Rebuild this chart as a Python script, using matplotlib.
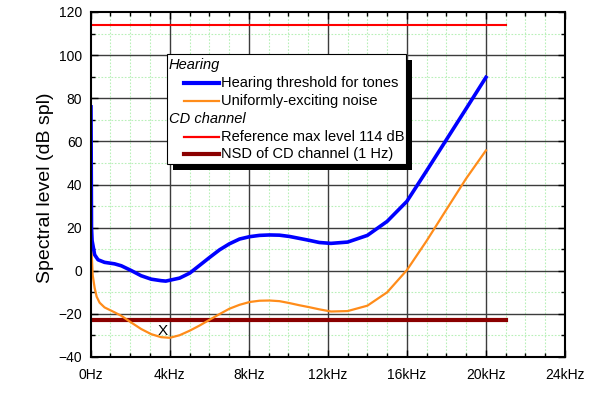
import numpy as np
import matplotlib
matplotlib.use("Agg")
import matplotlib.pyplot as plt
from matplotlib.patches import Rectangle
from matplotlib.lines import Line2D
from matplotlib.ticker import MultipleLocator, FuncFormatter

plt.rcParams["font.family"] = ["Liberation Sans", "DejaVu Sans"]

# --------------------------------------------------------------------------
# Data (frequency in kHz, level in dB spl)
# --------------------------------------------------------------------------
THRESH_F = [0.015, 0.04, 0.07, 0.13, 0.20, 0.37, 0.70, 1.21, 1.55, 2.05,
            2.55, 3.06, 3.56, 3.80, 4.00, 4.50, 5.01, 5.51, 6.02, 6.52,
            7.02, 7.53, 8.04, 8.54, 9.05, 9.55, 10.06, 10.56, 11.06, 11.57,
            12.16, 13.0, 14.0, 15.0, 16.0, 17.0, 18.0, 19.0, 20.0]
THRESH_DB = [76, 20, 14, 11, 7.4, 5.1, 3.9, 3.2, 2.3, 0.1,
             -2.3, -3.9, -4.6, -4.8, -4.4, -3.4, -1.1, 2.5, 6.2, 9.7,
             12.5, 14.7, 15.8, 16.4, 16.6, 16.5, 15.9, 15.0, 14.1, 13.1,
             12.7, 13.3, 16.4, 22.9, 32.2, 46.4, 60.8, 75.2, 89.7]

NOISE_F = [0.015, 0.04, 0.10, 0.20, 0.30, 0.45, 0.70, 1.21, 1.55, 2.05,
           2.55, 3.06, 3.56, 4.00, 4.50, 5.01, 5.51, 6.02, 6.52, 7.02,
           7.53, 8.04, 8.54, 9.05, 9.55, 10.06, 10.56, 11.06, 11.57, 12.16,
           13.0, 14.0, 15.0, 16.0, 17.0, 18.0, 19.0, 20.0]
NOISE_DB = [62, 10, -2, -8, -12, -14.8, -17.0, -19.3, -20.9, -24,
            -27, -29.4, -30.8, -31.1, -29.9, -27.8, -25.4, -22.7, -20.1, -17.6,
            -15.8, -14.5, -13.9, -13.8, -14.1, -15, -16.0, -16.9, -17.9, -18.9,
            -18.7, -16.2, -10, 0.3, 13.9, 28.4, 42.8, 55.8]

REF_F = [0, 21]
REF_DB = [114, 114]
NSD_F = [0, 21]
NSD_DB = [-23, -23]

X_MARK = (3.63, -27.8)

BLUE = "#0000ff"
ORANGE = "#ff8c1a"
RED = "#ff0000"
DARKRED = "#8b0000"

W, H = 600, 398
fig = plt.figure(figsize=(W / 100, H / 100), dpi=100)
ax = fig.add_axes([90.7 / W, 41 / H, (565 - 90.7) / W, (357 - 12) / H])

ax.set_xlim(0, 24)
ax.set_ylim(-40, 120)

# grids
for f in range(1, 24):
    if f % 4:
        ax.axvline(f, color="#b8f0b8", lw=0.8, ls=(0, (1.5, 1.5)), zorder=0)
for d in range(-30, 120, 20):
    ax.axhline(d, color="#b8f0b8", lw=0.8, ls=(0, (1.5, 1.5)), zorder=0)
for f in range(4, 24, 4):
    ax.axvline(f, color="#3c3c3c", lw=1.0, zorder=1)
for d in range(-20, 120, 20):
    ax.axhline(d, color="#3c3c3c", lw=1.0, zorder=1)

ax.plot(REF_F, REF_DB, color=RED, lw=1.5, zorder=3)
ax.plot(NSD_F, NSD_DB, color=DARKRED, lw=3, zorder=3)
ax.plot(NOISE_F, NOISE_DB, color=ORANGE, lw=1.6, zorder=4, solid_joinstyle="round")
ax.plot(THRESH_F, THRESH_DB, color=BLUE, lw=2.6, zorder=5, solid_joinstyle="round")

ax.text(X_MARK[0], X_MARK[1], "X", ha="center", va="center", fontsize=11, zorder=6)

ax.xaxis.set_major_locator(MultipleLocator(4))
ax.xaxis.set_minor_locator(MultipleLocator(1))
ax.yaxis.set_major_locator(MultipleLocator(20))
ax.yaxis.set_minor_locator(MultipleLocator(10))
ax.xaxis.set_major_formatter(FuncFormatter(lambda v, p: "0Hz" if v == 0 else f"{int(v)}kHz"))
ax.tick_params(which="both", direction="in", top=True, right=True, width=1.0)
ax.tick_params(which="major", length=5, labelsize=10)
ax.tick_params(which="minor", length=3)
ax.tick_params(axis="x", pad=8)
ax.tick_params(axis="y", pad=6)
for s in ax.spines.values():
    s.set_linewidth(1.5)
    s.set_zorder(10)

fig.text(46 / W, 1 - 188 / H, "Spectral level (dB spl)", rotation=90,
         ha="center", va="center", fontsize=14)


# legend drawn by hand, in figure pixel coordinates
def fx(px):
    return px / W


def fy(py):
    return 1 - py / H


tf = fig.transFigure
fig.patches.append(Rectangle((fx(172.7), fy(170)), (406 - 166.7) / W, (164 - 54.3) / H,
                             transform=tf, facecolor="black", edgecolor="none", zorder=20))
fig.patches.append(Rectangle((fx(166.7), fy(164)), (406 - 166.7) / W, (164 - 54.3) / H,
                             transform=tf, facecolor="white", edgecolor="black",
                             lw=0.8, zorder=21))

rows = [
    ("Hearing", None, None, 65),
    ("Hearing threshold for tones", BLUE, 3.0, 82.7),
    ("Uniformly-exciting noise", ORANGE, 1.6, 100.7),
    ("CD channel", None, None, 119),
    ("Reference max level 114 dB", RED, 1.6, 137.3),
    ("NSD of CD channel (1 Hz)", DARKRED, 3.0, 154.3),
]
for label, color, lw, py in rows:
    if color is None:
        fig.text(fx(169), fy(py), label, style="italic", fontsize=10.5,
                 ha="left", va="center", zorder=22)
    else:
        fig.lines.append(Line2D([fx(184), fx(219)], [fy(py), fy(py)], transform=tf,
                                color=color, lw=lw, zorder=22))
        fig.text(fx(221), fy(py), label, fontsize=10.5, ha="left", va="center", zorder=22)

fig.savefig("out.png", dpi=100)
